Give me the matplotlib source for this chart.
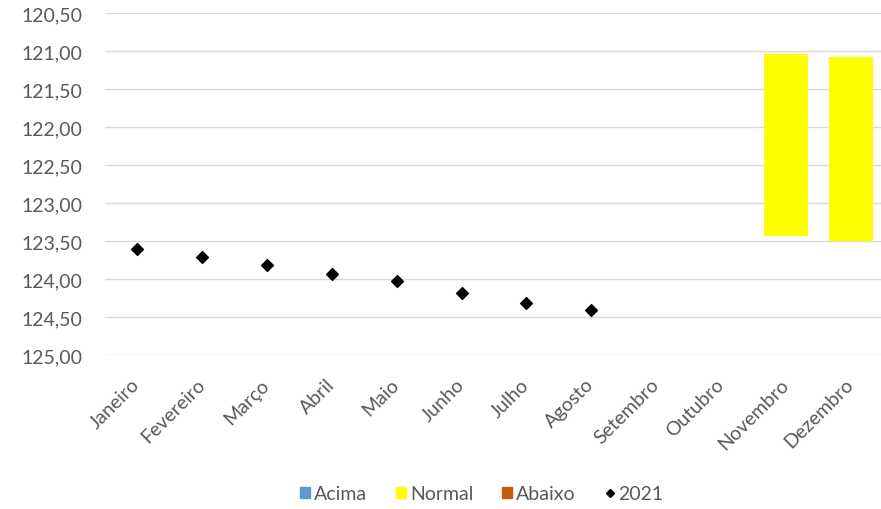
import numpy as np
import matplotlib.pyplot as plt
from matplotlib.lines import Line2D
from matplotlib.patches import Patch

plt.rcParams['font.family'] = ['Lato', 'DejaVu Sans']

months = ['Janeiro', 'Fevereiro', 'Março', 'Abril', 'Maio', 'Junho',
          'Julho', 'Agosto', 'Setembro', 'Outubro', 'Novembro', 'Dezembro']
cota_2021 = [123.60, 123.71, 123.81, 123.93, 124.03, 124.19, 124.31, 124.41,
             np.nan, np.nan, np.nan, np.nan]
# faixa "Normal": limite superior e inferior
normal_top = [np.nan] * 10 + [121.04, 121.08]
normal_bottom = [np.nan] * 10 + [123.43, 123.50]

grey = '#595959'

fig = plt.figure(figsize=(8.81, 5.10), dpi=100)
ax = fig.add_axes([104.5 / 881, 1 - 356 / 510, 779 / 881, 342 / 510])

x = np.arange(len(months))
top = np.array(normal_top)
bot = np.array(normal_bottom)
ax.bar(x, bot - top, bottom=top, width=0.67, color='#ffff00', zorder=2)
ax.scatter(x, cota_2021, marker='D', s=36, color='black', zorder=3)

ax.set_xlim(-0.5, len(months) - 0.5)
ax.set_ylim(125.0, 120.5)
yt = np.arange(120.5, 125.01, 0.5)
ax.set_yticks(yt)
ax.set_yticklabels([f'{v:.2f}'.replace('.', ',') for v in yt], color=grey, fontsize=14)
ax.set_xticks(x)
ax.set_xticklabels(months, rotation=45, ha='right', va='center',
                   rotation_mode='anchor', color=grey, fontsize=14)
ax.tick_params(length=0, axis='y', pad=16)
ax.tick_params(length=0, axis='x', pad=19)
ax.grid(axis='y', color='#d9d9d9', linewidth=1, zorder=0)
ax.set_axisbelow(True)
for s in ax.spines.values():
    s.set_visible(False)

handles = [Patch(color='#5b9bd5'), Patch(color='#ffff00'), Patch(color='#c55a11'),
           Line2D([], [], marker='D', color='black', linestyle='none', markersize=4.5)]
fig.legend(handles, ['Acima', 'Normal', 'Abaixo', '2021'], loc='center',
           bbox_to_anchor=(482 / 881, 1 - 495 / 510), ncol=4, frameon=False,
           fontsize=14, labelcolor=grey, handlelength=0.5, handleheight=0.5,
           handletextpad=0.2, columnspacing=1.5)

fig.savefig('out.png', dpi=100)
